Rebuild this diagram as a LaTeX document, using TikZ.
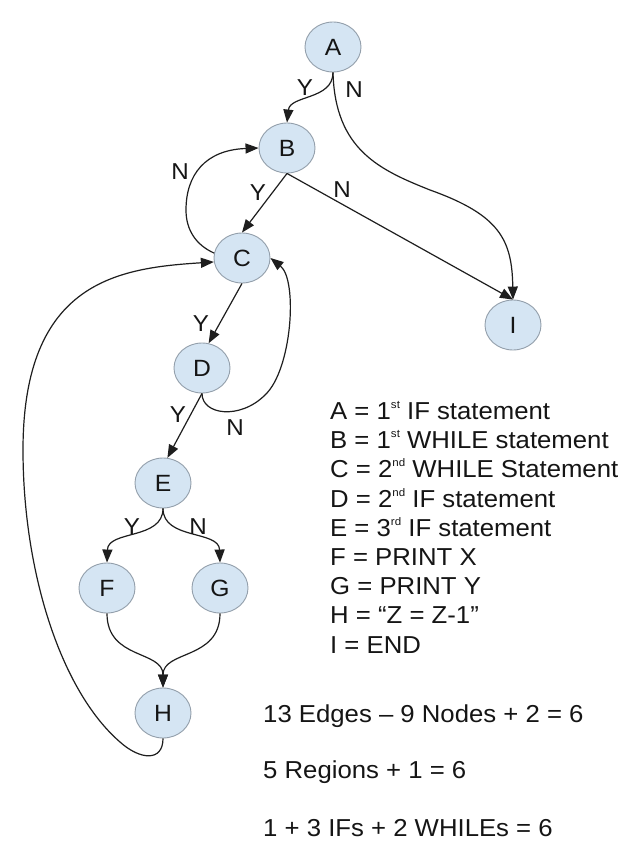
\documentclass[tikz,border=0pt]{standalone}
\usepackage{fontspec}
\setmainfont{Liberation Sans}[FakeStretch=1.05]
\usetikzlibrary{shapes.geometric,arrows.meta}
\definecolor{nodefill}{HTML}{D5E5F3}
\definecolor{nodeborder}{HTML}{939FAB}
\definecolor{edgecol}{HTML}{1E1E1E}
\definecolor{txtcol}{HTML}{151515}
\newcommand{\myord}[1]{\raisebox{0.8ex}{\fontsize{11}{11}\selectfont #1}}
\begin{document}
\begin{tikzpicture}[x=1pt,y=-1pt,
  state/.style={ellipse,draw=nodeborder,line width=0.9pt,fill=nodefill,
    minimum width=56pt,minimum height=50pt,inner sep=0pt,text=txtcol,
    font=\fontsize{23.5}{23.5}\selectfont},
  edge/.style={draw=edgecol,line width=1.2pt,-{Triangle[length=13pt,width=10pt]}},
  lbl/.style={font=\fontsize{23}{23}\selectfont,inner sep=0pt,text=txtcol},
  legend/.style={anchor=base west,inner sep=0pt,text=txtcol,
    font=\fontsize{24.5}{24.5}\selectfont}]
\useasboundingbox[fill=white] (0,0) rectangle (630,841);

% nodes
\node[state] (A) at (333,47) {A};
\node[state] (B) at (287,148) {B};
\node[state] (C) at (242,258) {C};
\node[state] (D) at (202,368) {D};
\node[state] (E) at (163,483) {E};
\node[state] (F) at (107,588) {F};
\node[state] (G) at (220,588) {G};
\node[state] (H) at (163,713) {H};
\node[state] (I) at (513,325) {I};

% edges
\draw[edge] (A.south) .. controls (333,100) and (290,95) .. (B.north);
\draw[edge] (A.south) .. controls (335,150) and (380,170) .. (430,190)
                      .. controls (500,215) and (512,240) .. (I.north);
\draw[edge] (B.south) -- (C.north);
\draw[edge] (B.south) -- (I.north);
\draw[edge] (C.170) .. controls (196,245) and (186,230) .. (186,210)
                    .. controls (186,175) and (205,150) .. (B.west);
\draw[edge] (C.south) -- (D.75);
\draw[edge] (D.south) .. controls (202,415) and (240,420) .. (265,395)
                      .. controls (292,370) and (298,280) .. (C.east);
\draw[edge] (D.south) -- (E.80);
\draw[edge] (E.south) .. controls (163,540) and (108,530) .. (F.north);
\draw[edge] (E.south) .. controls (163,540) and (219,530) .. (G.north);
\draw[edge] (F.south) .. controls (107,660) and (163,650) .. (H.north);
\draw[edge] (G.south) .. controls (220,660) and (163,650) .. (H.north);
\draw[edge] (H.south) .. controls (163,762) and (140,760) .. (120,742)
                      .. controls (60,690) and (23,570) .. (23,450)
                      .. controls (23,280) and (120,268) .. (C.188);

% edge labels
\node[lbl] (y1) at (305,88) {Y};
\node[lbl] (n1) at (354,90) {N};
\node[lbl] (y2) at (258,193) {Y};
\node[lbl] (n2) at (342,190) {N};
\node[lbl] (n3) at (180,172) {N};
\node[lbl] (y3) at (201,324) {Y};
\node[lbl] (n4) at (235,428) {N};
\node[lbl] (y4) at (178,415) {Y};
\node[lbl] (y5) at (132,527) {Y};
\node[lbl] (n5) at (198,527) {N};

% legend
\node[legend] (l1) at (330,419) {A = 1\myord{st} IF statement};
\node[legend] (l2) at (330,448) {B = 1\myord{st} WHILE statement};
\node[legend] (l3) at (330,477) {C = 2\myord{nd} WHILE Statement};
\node[legend] (l4) at (330,507) {D = 2\myord{nd} IF statement};
\node[legend] (l5) at (330,536) {E = 3\myord{rd} IF statement};
\node[legend] (l6) at (330,565) {F = PRINT X};
\node[legend] (l7) at (330,594) {G = PRINT Y};
\node[legend] (l8) at (330,623) {H = “Z = Z-1”};
\node[legend] (l9) at (330,653) {I = END};

\node[legend] (f1) at (263,722) {13 Edges – 9 Nodes + 2 = 6};
\node[legend] (f2) at (263,778) {5 Regions + 1 = 6};
\node[legend] (f3) at (263,836) {1 + 3 IFs + 2 WHILEs = 6};
\end{tikzpicture}
\end{document}
